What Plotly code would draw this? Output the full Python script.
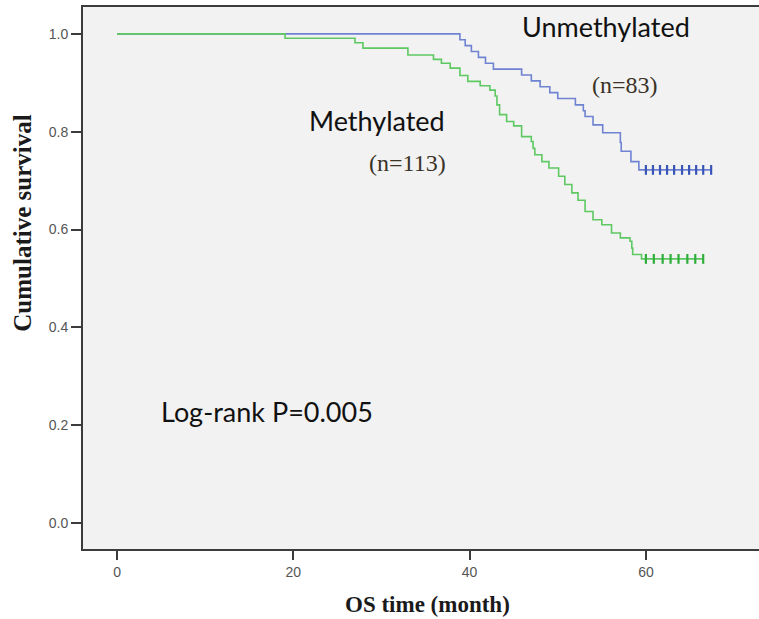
import plotly.graph_objects as go

# Kaplan-Meier step data (time in months, cumulative survival after each event)
unmeth_times = [0, 38.9, 39.5, 40.2, 41.0, 41.8, 42.7, 45.9, 47.0, 48.0, 49.1, 50.0,
                52.0, 52.9, 53.1, 54.0, 55.1, 57.1, 57.2, 58.3, 59.2]
unmeth_surv = [1.0, 0.988, 0.976, 0.964, 0.952, 0.940, 0.928, 0.916, 0.904, 0.892, 0.880, 0.868,
               0.855, 0.843, 0.831, 0.814, 0.798, 0.778, 0.760, 0.739, 0.722]
unmeth_censor = [60.0, 60.8, 61.6, 62.4, 63.2, 64.1, 64.9, 65.7, 66.5, 67.4]

meth_times = [0, 19.06, 27.0, 27.9, 33.0, 35.9, 36.8, 37.8, 38.9, 39.8, 41.2, 42.3, 42.9,
              43.1, 43.4, 44.2, 45.0, 45.9, 47.0, 47.2, 47.4, 48.2, 49.0, 50.1, 50.8, 51.6,
              52.3, 53.1, 54.0, 55.0, 56.1, 57.1, 58.2, 58.4, 58.5, 59.5]
meth_surv = [1.0, 0.991, 0.982, 0.971, 0.957, 0.948, 0.940, 0.930, 0.915, 0.903, 0.894, 0.885, 0.873,
             0.855, 0.835, 0.821, 0.812, 0.790, 0.780, 0.766, 0.753, 0.739, 0.726, 0.709, 0.692, 0.675,
             0.660, 0.637, 0.620, 0.610, 0.593, 0.583, 0.576, 0.562, 0.549, 0.540]
meth_censor = [60.0, 60.9, 61.9, 62.8, 63.7, 64.7, 65.6, 66.5]

y_ticks = [0.0, 0.2, 0.4, 0.6, 0.8, 1.0]
x_ticks = [0, 20, 40, 60]

BLUE = "#6f83d2"
BLUE_DARK = "#3a55b8"
GREEN = "#5ec962"
GREEN_DARK = "#2fae3c"

fig = go.Figure()

def add_curve(times, surv, censor, color, dark, name):
    xs = list(times) + [censor[-1]]
    ys = list(surv) + [surv[-1]]
    fig.add_trace(go.Scatter(x=xs, y=ys, mode="lines", line=dict(color=color, width=1.6, shape="hv"),
                             name=name, showlegend=False, hoverinfo="skip"))
    fig.add_trace(go.Scatter(x=censor, y=[surv[-1]] * len(censor), mode="markers",
                             marker=dict(symbol="line-ns", size=7, line=dict(color=dark, width=2.2)),
                             name=name + " censored", showlegend=False, hoverinfo="skip"))

add_curve(unmeth_times, unmeth_surv, unmeth_censor, BLUE, BLUE_DARK, "Unmethylated")
add_curve(meth_times, meth_surv, meth_censor, GREEN, GREEN_DARK, "Methylated")

label_font = "Lato"
serif = "Liberation Serif"

annotations = [
    dict(x=55.47, y=1.015, text="Unmethylated", font=dict(family=label_font, size=27, color="#111")),
    dict(x=57.63, y=0.896, text="(n=83)", font=dict(family=serif, size=24, color="#3a3328")),
    dict(x=29.44, y=0.822, text="Methylated", font=dict(family=label_font, size=27, color="#111")),
    dict(x=32.96, y=0.736, text="(n=113)", font=dict(family=serif, size=24, color="#3a3328")),
    dict(x=16.96, y=0.229, text="Log-rank P=0.005", font=dict(family=label_font, size=27, color="#111")),
]
for a in annotations:
    a.update(xref="x", yref="y", showarrow=False, xanchor="center", yanchor="middle")

annotations.append(dict(xref="paper", yref="paper", x=-0.0895, y=0.601, text="<b>Cumulative survival</b>",
                        textangle=-90, showarrow=False, xanchor="center", yanchor="middle",
                        font=dict(family=serif, size=25, color="#1a1a1a")))
annotations.append(dict(xref="paper", yref="paper", x=0.5096, y=-0.1033, text="<b>OS time (month)</b>",
                        showarrow=False, xanchor="center", yanchor="middle",
                        font=dict(family=serif, size=23, color="#1a1a1a")))

tick_font = dict(family="Liberation Sans", size=14, color="#555555")

fig.update_layout(
    width=759, height=619,
    margin=dict(l=83, r=0, t=7, b=70),
    paper_bgcolor="white",
    plot_bgcolor="#f2f2f2",
    annotations=annotations,
    xaxis=dict(range=[-3.86, 72.83], tickvals=x_ticks, ticktext=[str(v) for v in x_ticks],
               showgrid=False, zeroline=False, showline=True, linecolor="#3c3c3c", linewidth=2,
               mirror=True, ticks="outside", ticklen=9, tickwidth=2, tickcolor="#3c3c3c",
               tickfont=tick_font),
    yaxis=dict(range=[-0.053, 1.055], tickvals=y_ticks, ticktext=[f"{v:.1f}" for v in y_ticks],
               showgrid=False, zeroline=False, showline=True, linecolor="#3c3c3c", linewidth=2,
               ticks="outside", ticklen=10, tickwidth=2, tickcolor="#3c3c3c",
               tickfont=tick_font),
)

fig.write_html("out.html", config={"displayModeBar": False},
               post_script="document.body.style.margin='0';document.body.style.overflow='hidden';")
